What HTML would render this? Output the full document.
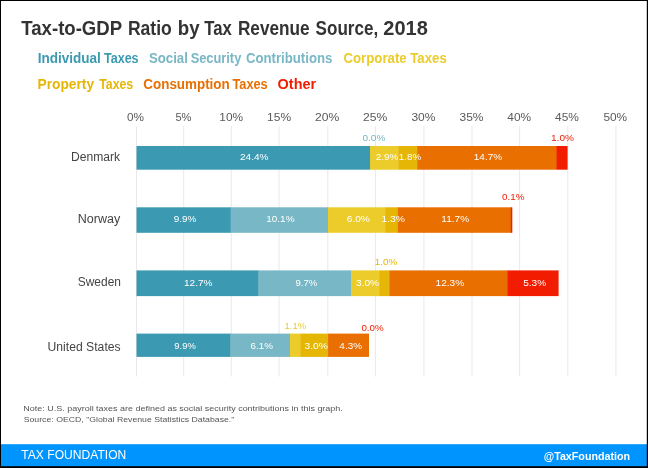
<!DOCTYPE html>
<html lang="en"><head><meta charset="utf-8"><title>Tax-to-GDP Ratio by Tax Revenue Source, 2018</title>
<style>
html,body{margin:0;padding:0;background:#fff;}
body{width:648px;height:468px;overflow:hidden;position:relative;font-family:"Liberation Sans",sans-serif;}
svg{position:absolute;left:0;top:0;display:block;}
text{font-family:"Liberation Sans",sans-serif;white-space:pre;}
.t{font-weight:bold;font-size:20px;fill:#333;}
.lg{font-weight:bold;font-size:14px;}
.ax{font-size:11.6px;fill:#5a5a5a;}
.cat{font-size:12px;fill:#444;}
.dl{font-size:9.6px;fill:#fff;}
.ol{font-size:9.6px;}
.note{font-size:8px;fill:#555;}
.f1{font-size:12.6px;}
.f2{font-size:11.6px;font-weight:bold;}
</style></head><body>
<svg width="648" height="468" viewBox="0 0 648 468">
<rect x="0" y="0" width="648" height="468" fill="#fff"/>
<rect x="136.00" y="126" width="1" height="250.5" fill="#e9e9e9"/>
<rect x="183.20" y="126" width="1" height="250.5" fill="#e9e9e9"/>
<rect x="230.80" y="126" width="1" height="250.5" fill="#e9e9e9"/>
<rect x="278.60" y="126" width="1" height="250.5" fill="#e9e9e9"/>
<rect x="327.30" y="126" width="1" height="250.5" fill="#e9e9e9"/>
<rect x="374.90" y="126" width="1" height="250.5" fill="#e9e9e9"/>
<rect x="423.40" y="126" width="1" height="250.5" fill="#e9e9e9"/>
<rect x="471.50" y="126" width="1" height="250.5" fill="#e9e9e9"/>
<rect x="519.10" y="126" width="1" height="250.5" fill="#e9e9e9"/>
<rect x="567.30" y="126" width="1" height="250.5" fill="#e9e9e9"/>
<rect x="615.40" y="126" width="1" height="250.5" fill="#e9e9e9"/>
<rect x="136.50" y="146.0" width="234.00" height="23.70" fill="#3b9ab2"/>
<rect x="370.10" y="146.0" width="28.60" height="23.70" fill="#ebcc2a"/>
<rect x="398.30" y="146.0" width="19.30" height="23.70" fill="#e5b606"/>
<rect x="417.20" y="146.0" width="139.80" height="23.70" fill="#e86f00"/>
<rect x="556.60" y="146.0" width="11.00" height="23.70" fill="#f21d00"/>
<rect x="136.50" y="207.3" width="94.50" height="25.50" fill="#3b9ab2"/>
<rect x="230.60" y="207.3" width="97.80" height="25.50" fill="#78b7c5"/>
<rect x="328.00" y="207.3" width="57.60" height="25.50" fill="#ebcc2a"/>
<rect x="385.20" y="207.3" width="13.10" height="25.50" fill="#e5b606"/>
<rect x="397.90" y="207.3" width="113.30" height="25.50" fill="#e86f00"/>
<rect x="510.80" y="207.3" width="1.50" height="25.50" fill="#f21d00"/>
<rect x="136.50" y="270.4" width="122.30" height="25.70" fill="#3b9ab2"/>
<rect x="258.40" y="270.4" width="93.00" height="25.70" fill="#78b7c5"/>
<rect x="351.00" y="270.4" width="29.00" height="25.70" fill="#ebcc2a"/>
<rect x="379.60" y="270.4" width="10.40" height="25.70" fill="#e5b606"/>
<rect x="389.60" y="270.4" width="118.30" height="25.70" fill="#e86f00"/>
<rect x="507.50" y="270.4" width="51.10" height="25.70" fill="#f21d00"/>
<rect x="136.50" y="333.6" width="94.30" height="23.30" fill="#3b9ab2"/>
<rect x="230.40" y="333.6" width="60.00" height="23.30" fill="#78b7c5"/>
<rect x="290.00" y="333.6" width="10.80" height="23.30" fill="#ebcc2a"/>
<rect x="300.40" y="333.6" width="28.10" height="23.30" fill="#e5b606"/>
<rect x="328.10" y="333.6" width="40.90" height="23.30" fill="#e86f00"/>
<rect x="0" y="444.2" width="648" height="24" fill="#0094ff"/>
<text class="t" y="35.0"><tspan x="21.29" textLength="100.54" lengthAdjust="spacingAndGlyphs">Tax-to-GDP</tspan> <tspan x="127.93" textLength="43.86" lengthAdjust="spacingAndGlyphs">Ratio</tspan> <tspan x="177.87" textLength="21.83" lengthAdjust="spacingAndGlyphs">by</tspan> <tspan x="204.31" textLength="27.51" lengthAdjust="spacingAndGlyphs">Tax</tspan> <tspan x="237.95" textLength="71.64" lengthAdjust="spacingAndGlyphs">Revenue</tspan> <tspan x="315.61" textLength="62.53" lengthAdjust="spacingAndGlyphs">Source,</tspan> <tspan x="383.31" textLength="44.51" lengthAdjust="spacingAndGlyphs">2018</tspan></text>
<text class="lg" y="62.7" fill="#3b9ab2"><tspan x="37.69" textLength="63.16" lengthAdjust="spacingAndGlyphs">Individual</tspan> <tspan x="103.96" textLength="34.66" lengthAdjust="spacingAndGlyphs">Taxes</tspan></text>
<text class="lg" y="62.7" fill="#78b7c5"><tspan x="148.92" textLength="38.92" lengthAdjust="spacingAndGlyphs">Social</tspan> <tspan x="190.63" textLength="50.64" lengthAdjust="spacingAndGlyphs">Security</tspan> <tspan x="245.96" textLength="86.38" lengthAdjust="spacingAndGlyphs">Contributions</tspan></text>
<text class="lg" y="62.7" fill="#ebcc2a"><tspan x="343.46" textLength="63.19" lengthAdjust="spacingAndGlyphs">Corporate</tspan> <tspan x="410.25" textLength="36.49" lengthAdjust="spacingAndGlyphs">Taxes</tspan></text>
<text class="lg" y="89.4" fill="#e5b606"><tspan x="37.58" textLength="56.49" lengthAdjust="spacingAndGlyphs">Property</tspan> <tspan x="99.26" textLength="33.94" lengthAdjust="spacingAndGlyphs">Taxes</tspan></text>
<text class="lg" y="89.4" fill="#e86f00"><tspan x="143.35" textLength="86.38" lengthAdjust="spacingAndGlyphs">Consumption</tspan> <tspan x="232.46" textLength="35.27" lengthAdjust="spacingAndGlyphs">Taxes</tspan></text>
<text class="lg" x="277.61" y="89.4" textLength="38.51" lengthAdjust="spacingAndGlyphs" fill="#f21d00">Other</text>
<text class="ax" x="126.94" y="121.4" textLength="16.98" lengthAdjust="spacingAndGlyphs">0%</text>
<text class="ax" x="175.46" y="121.4" textLength="16.04" lengthAdjust="spacingAndGlyphs">5%</text>
<text class="ax" x="219.30" y="121.4" textLength="23.73" lengthAdjust="spacingAndGlyphs">10%</text>
<text class="ax" x="267.08" y="121.4" textLength="24.04" lengthAdjust="spacingAndGlyphs">15%</text>
<text class="ax" x="315.09" y="121.4" textLength="24.24" lengthAdjust="spacingAndGlyphs">20%</text>
<text class="ax" x="363.09" y="121.4" textLength="24.24" lengthAdjust="spacingAndGlyphs">25%</text>
<text class="ax" x="411.44" y="121.4" textLength="23.98" lengthAdjust="spacingAndGlyphs">30%</text>
<text class="ax" x="459.54" y="121.4" textLength="23.98" lengthAdjust="spacingAndGlyphs">35%</text>
<text class="ax" x="507.33" y="121.4" textLength="23.80" lengthAdjust="spacingAndGlyphs">40%</text>
<text class="ax" x="555.13" y="121.4" textLength="23.80" lengthAdjust="spacingAndGlyphs">45%</text>
<text class="ax" x="603.43" y="121.4" textLength="23.70" lengthAdjust="spacingAndGlyphs">50%</text>
<text class="cat" x="71.11" y="160.8" textLength="49.07" lengthAdjust="spacingAndGlyphs">Denmark</text>
<text class="dl" x="240.00" y="160.2" textLength="28.46" lengthAdjust="spacingAndGlyphs">24.4%</text>
<text class="ol" x="362.40" y="140.9" textLength="23.06" lengthAdjust="spacingAndGlyphs" fill="#78b7c5">0.0%</text>
<text class="dl" x="375.80" y="160.2" textLength="22.45" lengthAdjust="spacingAndGlyphs">2.9%</text>
<text class="dl" x="398.85" y="160.2" textLength="22.40" lengthAdjust="spacingAndGlyphs">1.8%</text>
<text class="dl" x="473.84" y="160.2" textLength="28.21" lengthAdjust="spacingAndGlyphs">14.7%</text>
<text class="ol" x="551.03" y="141.2" textLength="22.92" lengthAdjust="spacingAndGlyphs" fill="#f21d00">1.0%</text>
<text class="cat" x="77.77" y="222.8" textLength="42.45" lengthAdjust="spacingAndGlyphs">Norway</text>
<text class="dl" x="173.73" y="221.9" textLength="22.62" lengthAdjust="spacingAndGlyphs">9.9%</text>
<text class="dl" x="266.24" y="221.9" textLength="28.32" lengthAdjust="spacingAndGlyphs">10.1%</text>
<text class="dl" x="346.79" y="221.9" textLength="23.07" lengthAdjust="spacingAndGlyphs">6.0%</text>
<text class="dl" x="381.52" y="221.9" textLength="23.45" lengthAdjust="spacingAndGlyphs">1.3%</text>
<text class="dl" x="441.33" y="221.9" textLength="27.83" lengthAdjust="spacingAndGlyphs">11.7%</text>
<text class="ol" x="502.01" y="199.8" textLength="22.54" lengthAdjust="spacingAndGlyphs" fill="#f21d00">0.1%</text>
<text class="cat" x="77.76" y="286.0" textLength="43.22" lengthAdjust="spacingAndGlyphs">Sweden</text>
<text class="dl" x="184.03" y="286.0" textLength="28.52" lengthAdjust="spacingAndGlyphs">12.7%</text>
<text class="dl" x="295.45" y="286.0" textLength="21.79" lengthAdjust="spacingAndGlyphs">9.7%</text>
<text class="dl" x="356.01" y="286.0" textLength="23.15" lengthAdjust="spacingAndGlyphs">3.0%</text>
<text class="ol" x="374.85" y="265.1" textLength="22.50" lengthAdjust="spacingAndGlyphs" fill="#e5b606">1.0%</text>
<text class="dl" x="435.63" y="286.0" textLength="28.52" lengthAdjust="spacingAndGlyphs">12.3%</text>
<text class="dl" x="523.20" y="286.0" textLength="22.96" lengthAdjust="spacingAndGlyphs">5.3%</text>
<text class="cat" x="47.56" y="350.5" textLength="73.08" lengthAdjust="spacingAndGlyphs">United States</text>
<text class="dl" x="174.36" y="349.2" textLength="21.48" lengthAdjust="spacingAndGlyphs">9.9%</text>
<text class="dl" x="250.50" y="349.2" textLength="22.35" lengthAdjust="spacingAndGlyphs">6.1%</text>
<text class="ol" x="284.58" y="329.1" textLength="21.45" lengthAdjust="spacingAndGlyphs" fill="#ebcc2a">1.1%</text>
<text class="dl" x="304.61" y="349.2" textLength="23.25" lengthAdjust="spacingAndGlyphs">3.0%</text>
<text class="dl" x="339.37" y="349.2" textLength="22.68" lengthAdjust="spacingAndGlyphs">4.3%</text>
<text class="ol" x="361.42" y="331.3" textLength="22.33" lengthAdjust="spacingAndGlyphs" fill="#f21d00">0.0%</text>
<text class="note" x="23.36" y="410.8" textLength="319.45" lengthAdjust="spacingAndGlyphs">Note: U.S. payroll taxes are defined as social security contributions in this graph.</text>
<text class="note" x="23.70" y="421.5" textLength="210.67" lengthAdjust="spacingAndGlyphs">Source: OECD, "Global Revenue Statistics Database."</text>
<text class="f1" x="21.33" y="459.4" textLength="104.96" lengthAdjust="spacingAndGlyphs" fill="#fff">TAX FOUNDATION</text>
<text class="f2" x="543.69" y="459.7" textLength="86.48" lengthAdjust="spacingAndGlyphs" fill="#fff">@TaxFoundation</text>
<rect x="0" y="0" width="648" height="1" fill="#000"/>
<rect x="0" y="0" width="1" height="468" fill="#000"/>
<rect x="646.8" y="0" width="1.2" height="468" fill="#000"/>
<rect x="0" y="466.2" width="648" height="1.8" fill="#000"/>
</svg>
</body></html>
